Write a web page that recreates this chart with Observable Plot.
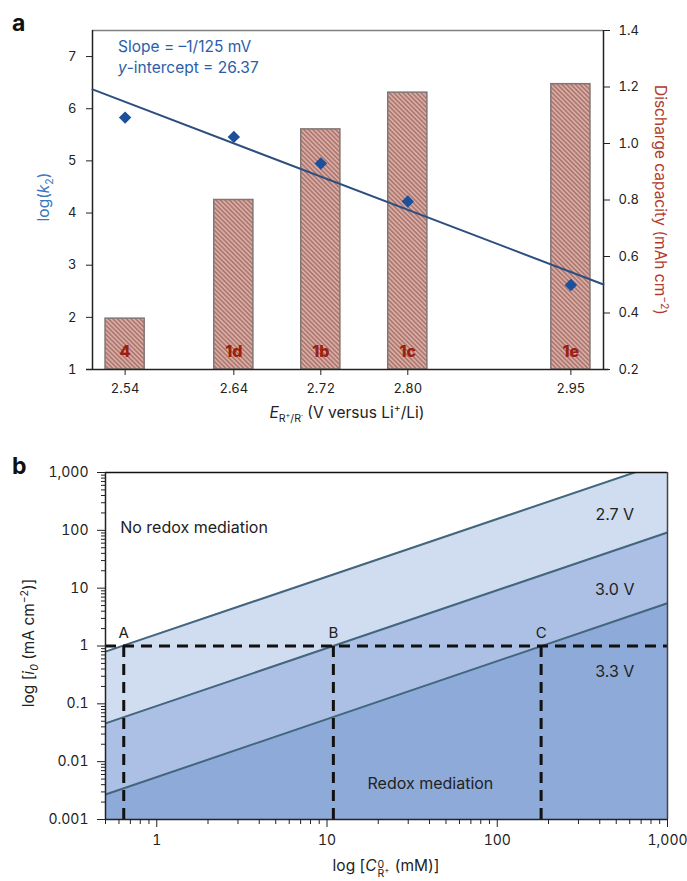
<!DOCTYPE html>
<html><head><meta charset="utf-8">
<script src="https://cdn.jsdelivr.net/npm/d3@7"></script>
<script src="https://cdn.jsdelivr.net/npm/@observablehq/plot@0.6"></script>
<style>
body{margin:0;background:#fff;font-family:Inter,"Liberation Sans",Arial,sans-serif;color:#222;}
#wrap{position:relative;width:687px;height:881px;overflow:hidden;background:#fff;}
#wrap svg{position:absolute;left:0;}
.abs{position:absolute;white-space:nowrap;line-height:1;}
.ctr{transform:translate(-50%,-50%);}
.rotL{transform:translate(-50%,-50%) rotate(-90deg);}
.rotR{transform:translate(-50%,-50%) rotate(90deg);}
sub,sup{font-size:0.68em;line-height:0;}
.ss{position:relative;display:inline-block;width:14px;height:0;}
.ss .up,.ss .dn{position:absolute;left:1px;font-size:10.5px;line-height:1;}
.ss .up{top:-11px;}
.ss .dn{top:-2px;}
.ss .dn sup{font-size:0.75em;}
</style></head><body><div id="wrap"></div>
<script>
// ---------- Panel a data ----------
const potentials = [2.54, 2.64, 2.72, 2.80, 2.95];
const compounds = ["4", "1d", "1b", "1c", "1e"];
const logK2 = [5.83, 5.46, 4.95, 4.22, 2.62];
const capacity = [0.38, 0.80, 1.05, 1.18, 1.21];
const fitPotential = [2.51, 2.98];
const fitLogK2 = [6.37, 2.63];
const leftTicksA = [1, 2, 3, 4, 5, 6, 7];
const rightTicksA = [0.2, 0.4, 0.6, 0.8, 1.0, 1.2, 1.4];

// ---------- Panel b data ----------
const concEnds = [0.5, 1000];
const i27 = [0.8, 1560];
const i30 = [0.046, 92];
const i33 = [0.0027, 5.5];
const pointLabels = ["A", "B", "C"];
const pointConc = [0.64, 10.9, 181];
const yTicksB = [0.001, 0.01, 0.1, 1, 10, 100, 1000];
const xTicksB = [1, 10, 100, 1000];
const annoText = ["No redox mediation", "2.7 V", "3.0 V", "3.3 V", "Redox mediation"];
const annoConc = [0.61, 490, 490, 490, 40.5];
const annoI = [112, 182, 9.5, 0.36, 0.0042];
const annoAnchor = ["start", "middle", "middle", "middle", "middle"];

const FONT = "Inter, 'Liberation Sans', Arial, sans-serif";
const W = 687;
const wrap = document.getElementById("wrap");

// ---------- Panel a ----------
const barData = potentials.map((e, i) => ({e, cap: capacity[i], label: compounds[i]}));
const ptData = potentials.map((e, i) => ({e, k: logK2[i]}));
const fitData = fitPotential.map((e, i) => ({e, k: fitLogK2[i]}));
const commonA = {
  width: W, height: 430, marginLeft: 92, marginRight: 84, marginTop: 30, marginBottom: 61,
  style: {fontFamily: FONT, fontSize: "13px", background: "transparent", color: "#222", overflow: "visible"}
};
const svgBars = Plot.plot({
  ...commonA,
  x: {domain: [2.51, 2.98]},
  y: {domain: [0.2, 1.4]},
  marks: [
    Plot.rectY(barData, {x1: d => d.e - 0.018, x2: d => d.e + 0.018, y1: 0.2, y2: "cap",
      fill: "url(#hatch)", stroke: "#7f7775", strokeWidth: 1.5}),
    Plot.text(barData, {x: "e", y: 0.264, text: "label", fill: "#9c2010", fontWeight: 800, fontSize: 16}),
    Plot.ruleY([1.4], {stroke: "#808080", strokeWidth: 1.5}),
    Plot.ruleX([2.98], {stroke: "#222", strokeWidth: 1.5}),
    Plot.ruleX([2.51], {stroke: "#222", strokeWidth: 1.5}),
    Plot.ruleY([0.2], {x1: 2.5045, x2: 2.985, stroke: "#222", strokeWidth: 1.5}),
    Plot.axisY({anchor: "right", ticks: rightTicksA, tickFormat: d3.format(".1f"), tickSize: 6, tickPadding: 9, label: null}),
    Plot.axisX({ticks: potentials, tickFormat: d3.format(".2f"), tickSize: 6, tickPadding: 8, label: null})
  ]
});
const defs = d3.select(svgBars).insert("defs", ":first-child");
const pat = defs.append("pattern").attr("id", "hatch").attr("patternUnits", "userSpaceOnUse")
  .attr("width", 3.2).attr("height", 3.2).attr("patternTransform", "rotate(-45)");
pat.append("rect").attr("width", 3.2).attr("height", 3.2).attr("fill", "#dcaba3");
pat.append("line").attr("x1", 1.6).attr("y1", 0).attr("x2", 1.6).attr("y2", 3.2)
  .attr("stroke", "#9a6861").attr("stroke-width", 1.2);
svgBars.style.top = "0px";
wrap.appendChild(svgBars);

const svgLine = Plot.plot({
  ...commonA,
  x: {domain: [2.51, 2.98], axis: null},
  y: {domain: [1, 7.5], axis: null},
  marks: [
    Plot.line(fitData, {x: "e", y: "k", stroke: "#2c4f80", strokeWidth: 2}),
    Plot.dot(ptData, {x: "e", y: "k", symbol: "diamond2", r: 5.6, fill: "#1c4f9c"}),
    Plot.axisY({anchor: "left", ticks: leftTicksA, tickFormat: d3.format("d"), tickSize: 6, tickPadding: 10, label: null})
  ]
});
svgLine.style.top = "0px";
wrap.appendChild(svgLine);

// ---------- Panel b ----------
const band = arr => concEnds.map((c, i) => ({c, i: arr[i]}));
const b27 = band(i27), b30 = band(i30), b33 = band(i33);
const minorY = [], minorX = [];
for (const d of [0.001, 0.01, 0.1, 1, 10, 100]) for (let m = 2; m <= 9; m++) minorY.push(d * m);
for (const d of [0.1, 1, 10, 100]) for (let m = 2; m <= 9; m++) { const v = d * m; if (v >= 0.5 && v < 1000) minorX.push(v); }
const lineStyle = {x: "c", y: "i", stroke: "#43667f", strokeWidth: 2, clip: true};
const dashStyle = {stroke: "#111", strokeWidth: 3, strokeDasharray: "11,7"};
const annoData = annoText.map((t, k) => ({t, c: annoConc[k], i: annoI[k], a: annoAnchor[k]}));
const svgB = Plot.plot({
  width: W, height: 441, marginLeft: 105, marginRight: 20, marginTop: 32, marginBottom: 62,
  x: {type: "log", domain: [0.5, 1000]},
  y: {type: "log", domain: [0.001, 1000]},
  style: {fontFamily: FONT, fontSize: "14px", background: "transparent", color: "#222", overflow: "visible"},
  marks: [
    Plot.areaY(b27, {x: "c", y1: 0.001, y2: "i", fill: "#d0dcef", clip: true}),
    Plot.areaY(b30, {x: "c", y1: 0.001, y2: "i", fill: "#abc0e4", clip: true}),
    Plot.areaY(b33, {x: "c", y1: 0.001, y2: "i", fill: "#8eaad9", clip: true}),
    Plot.line(b27, lineStyle),
    Plot.line(b30, lineStyle),
    Plot.line(b33, lineStyle),
    Plot.ruleY([1], dashStyle),
    Plot.ruleX(pointConc, {y1: 0.001, y2: 1, ...dashStyle}),
    Plot.text(pointLabels, {x: (d, k) => pointConc[k], y: 1, dy: -13, text: d => d, fontSize: 15, fill: "#222"}),
    Plot.text(annoData.filter(d => d.a === "start"), {x: "c", y: "i", text: "t", textAnchor: "start", fontSize: 16, fill: "#222"}),
    Plot.text(annoData.filter(d => d.a === "middle"), {x: "c", y: "i", text: "t", fontSize: 16, fill: "#222"}),
    Plot.ruleY([1000], {stroke: "#111", strokeWidth: 1.5}),
    Plot.ruleX([1000], {stroke: "#444", strokeWidth: 1.5}),
    Plot.ruleX([0.5], {stroke: "#222", strokeWidth: 1.5}),
    Plot.ruleY([0.001], {stroke: "#222", strokeWidth: 1.5}),
    Plot.axisY({ticks: yTicksB, tickFormat: d3.format(","), tickSize: 8, tickPadding: 9, label: null}),
    Plot.axisY({ticks: minorY, tickSize: 4, tickFormat: () => "", label: null}),
    Plot.axisX({ticks: xTicksB, tickFormat: d3.format(","), tickSize: 8, tickPadding: 8, label: null}),
    Plot.axisX({ticks: minorX, tickSize: 5, tickFormat: () => "", label: null})
  ]
});
svgB.style.top = "440px";
wrap.appendChild(svgB);

// ---------- Text labels (HTML) ----------
function label(html, x, y, cls, style) {
  const d = document.createElement("div");
  d.className = "abs " + cls;
  d.style.left = x + "px"; d.style.top = y + "px";
  Object.assign(d.style, style || {});
  d.innerHTML = html;
  wrap.appendChild(d);
}
label("a", 12, 12, "", {fontWeight: "bold", fontSize: "23px", color: "#111"});
label("b", 12, 455, "", {fontWeight: "bold", fontSize: "23px", color: "#111"});
label("Slope = –1/125 mV", 118, 39, "", {fontSize: "15.5px", color: "#2c5ea8"});
label("<i>y</i>-intercept = 26.37", 118, 60, "", {fontSize: "15.5px", color: "#2c5ea8"});
label("log(<i>k</i><sub>2</sub>)", 44, 197, "rotL", {fontSize: "15.5px", color: "#3a78c2"});
label("Discharge capacity (mAh cm<sup>−2</sup>)", 660, 200, "rotR", {fontSize: "15.5px", color: "#b23a2a"});
label("<i>E</i><sub>R<sup>+</sup>/R<sup>·</sup></sub> (V versus Li<sup>+</sup>/Li)", 347, 413, "ctr", {fontSize: "15.5px", color: "#222"});
label("log [<i>i</i><sub><i>0</i></sub> (mA cm<sup>−2</sup>)]", 29, 643, "rotL", {fontSize: "15.5px", color: "#222"});
label("log [<i>C</i><span class='ss'><span class='up'>0</span><span class='dn'>R<sup>+</sup></span></span> (mM)]", 386, 866, "ctr", {fontSize: "15.5px", color: "#222"});
</script></body></html>
